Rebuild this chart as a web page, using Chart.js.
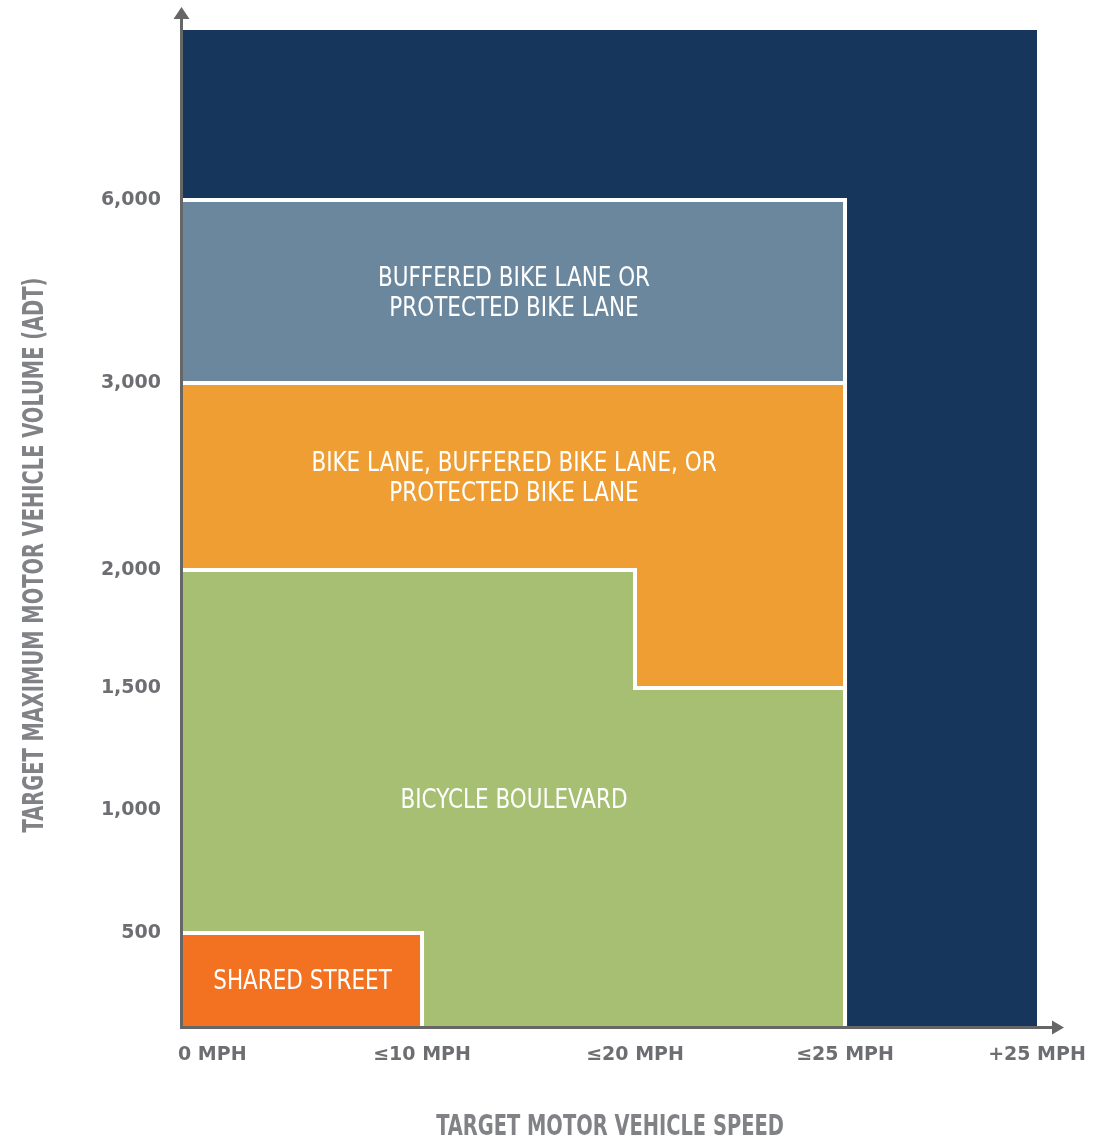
<!DOCTYPE html>
<html>
<head>
<meta charset="utf-8">
<title>Bikeway selection by speed and volume</title>
<script src="https://cdn.jsdelivr.net/npm/chart.js@4.4.1/dist/chart.umd.min.js"></script>
<style>
  html, body { margin: 0; padding: 0; background: #fff; }
  #wrap { width: 1109px; height: 1139px; position: relative; }
</style>
</head>
<body>
<div id="wrap"><canvas id="chart"></canvas></div>
<script>
// 横轴：目标机动车速度
const speedTicks = [0, 10, 20, 25, 30];
const speedLabels = ['0 MPH', '≤10 MPH', '≤20 MPH', '≤25 MPH', '+25 MPH'];

// 纵轴：目标最大机动车流量 (ADT)
const volumeTicks = [500, 1000, 1500, 2000, 3000, 6000];
const volumeLabels = ['500', '1,000', '1,500', '2,000', '3,000', '6,000'];
const volumeTop = 9000;

// 各设施区域的外轮廓 [速度, 流量]
const anyFacility = [[0, volumeTop], [30, volumeTop]];
const bufferedLane = [[0, 6000], [25, 6000], [25, 0]];
const bikeLane = [[0, 3000], [25, 3000], [25, 0]];
const bicycleBoulevard = [[0, 2000], [20, 2000], [20, 1500], [25, 1500], [25, 0]];
const sharedStreet = [[0, 500], [10, 500], [10, 0]];

// 区域内文字
const bufferedText = ['BUFFERED BIKE LANE OR', 'PROTECTED BIKE LANE'];
const bikeLaneText = ['BIKE LANE, BUFFERED BIKE LANE, OR', 'PROTECTED BIKE LANE'];
const boulevardText = ['BICYCLE BOULEVARD'];
const sharedText = ['SHARED STREET'];

// 轴的分段位置（原图刻度不等距）
const axisStops = {
  x: { values: [0, 10, 20, 25, 30], pos: [0, 0.2799, 0.5293, 0.7752, 1] },
  y: { values: [0, 500, 1000, 1500, 2000, 3000, 6000, volumeTop],
       pos: [0, 0.0934, 0.2169, 0.3394, 0.4578, 0.6456, 0.8293, 1] }
};

class StepScale extends Chart.LinearScale {
  determineDataLimits() {
    const s = axisStops[this.id];
    this.min = s.values[0];
    this.max = s.values[s.values.length - 1];
  }
  buildTicks() {
    const list = this.id === 'x' ? speedTicks : volumeTicks;
    return list.map(v => ({ value: v }));
  }
  getPixelForValue(value) {
    const s = axisStops[this.id];
    let i = 1;
    while (i < s.values.length - 1 && value > s.values[i]) i++;
    const t = s.pos[i - 1] + (value - s.values[i - 1]) / (s.values[i] - s.values[i - 1]) * (s.pos[i] - s.pos[i - 1]);
    return this.getPixelForDecimal(t);
  }
  getValueForPixel(pixel) {
    const s = axisStops[this.id];
    const t = this.getDecimalForPixel(pixel);
    let i = 1;
    while (i < s.pos.length - 1 && t > s.pos[i]) i++;
    return s.values[i - 1] + (t - s.pos[i - 1]) / (s.pos[i] - s.pos[i - 1]) * (s.values[i] - s.values[i - 1]);
  }
  _computeLabelItems(chartArea) {
    const items = super._computeLabelItems(chartArea);
    // "0 MPH" 从轴线处起笔
    if (this.id === 'x' && items.length) {
      items[0].options.textAlign = 'left';
      items[0].options.translation[0] -= 5;
    }
    return items;
  }
}
StepScale.id = 'step';
StepScale.defaults = Chart.LinearScale.defaults;
Chart.register(StepScale);

function toPoints(outline) {
  return outline.map(p => ({ x: p[0], y: p[1] }));
}

function region(outline, color, border) {
  return {
    data: toPoints(outline),
    backgroundColor: color,
    borderColor: '#ffffff',
    borderWidth: border,
    borderJoinStyle: 'miter',
    pointRadius: 0,
    tension: 0,
    fill: 'origin'
  };
}

const tickFont = { family: 'DejaVu Sans', weight: 'bold', size: 19 };
const narrow = '"DejaVu Sans Condensed", "DejaVu Sans", sans-serif';

// 压窄的文字（原图为窄体字）
function squeezeText(ctx, text, x, y, sx, angle) {
  ctx.save();
  ctx.translate(x, y);
  if (angle) ctx.rotate(angle);
  ctx.scale(sx, 1);
  ctx.fillText(text, 0, 0);
  ctx.restore();
}

// 标签、坐标轴和箭头
const decorPlugin = {
  id: 'decor',
  afterDatasetsDraw(chart) {
    const { ctx, chartArea, scales: { x, y } } = chart;
    ctx.save();

    // 区域文字
    const labels = [
      [bufferedText, bufferedLane, 3000],
      [bikeLaneText, bikeLane, 2000],
      [boulevardText, bicycleBoulevard, 0],
      [sharedText, sharedStreet, 0]
    ];
    ctx.fillStyle = '#ffffff';
    ctx.font = '26px ' + narrow;
    ctx.textAlign = 'center';
    ctx.textBaseline = 'middle';
    labels.forEach(([lines, outline, floor]) => {
      const cx = (x.getPixelForValue(0) + x.getPixelForValue(outline[outline.length - 1][0])) / 2;
      const cy = (y.getPixelForValue(floor) + y.getPixelForValue(outline[0][1])) / 2 + 3;
      lines.forEach((t, i) => {
        squeezeText(ctx, t, cx, cy + (i - (lines.length - 1) / 2) * 30, 0.92);
      });
    });

    // 坐标轴
    const left = chartArea.left - 1.5;
    const bottom = chartArea.bottom + 1.5;
    ctx.strokeStyle = '#666666';
    ctx.fillStyle = '#666666';
    ctx.lineWidth = 3;
    ctx.beginPath();
    ctx.moveTo(left, bottom);
    ctx.lineTo(left, 14);
    ctx.moveTo(left - 1.5, bottom);
    ctx.lineTo(1056, bottom);
    ctx.stroke();

    ctx.beginPath();
    ctx.moveTo(left, 7);
    ctx.lineTo(left + 8, 19);
    ctx.lineTo(left - 8, 19);
    ctx.closePath();
    ctx.fill();

    ctx.beginPath();
    ctx.moveTo(1064, bottom);
    ctx.lineTo(1052, bottom - 7);
    ctx.lineTo(1052, bottom + 7);
    ctx.closePath();
    ctx.fill();

    // 轴标题
    ctx.fillStyle = '#808285';
    ctx.font = 'bold 29px ' + narrow;
    squeezeText(ctx, 'TARGET MOTOR VEHICLE SPEED', (chartArea.left + chartArea.right) / 2, 1127, 0.745);
    squeezeText(ctx, 'TARGET MAXIMUM MOTOR VEHICLE VOLUME (ADT)', 35, 555, 0.745, -Math.PI / 2);
    ctx.restore();
  }
};

const ctx = document.getElementById('chart').getContext('2d');
new Chart(ctx, {
  type: 'line',
  data: {
    datasets: [
      region(sharedStreet, '#F27221', 4),
      region(bicycleBoulevard, '#A6BF72', 4),
      region(bikeLane, '#EE9E33', 4),
      region(bufferedLane, '#6B879E', 4),
      region(anyFacility, '#17365C', 0)
    ]
  },
  options: {
    responsive: true,
    maintainAspectRatio: false,
    animation: false,
    layout: { padding: { top: 30, right: 72, left: 0, bottom: 0 } },
    plugins: {
      legend: { display: false },
      tooltip: { enabled: false }
    },
    scales: {
      x: {
        type: 'step',
        grid: { display: false, drawTicks: false },
        border: { display: false },
        ticks: {
          padding: 18,
          color: '#6D6E71',
          font: tickFont,
          maxRotation: 0,
          autoSkip: false,
          callback: v => speedLabels[speedTicks.indexOf(v)]
        },
        afterFit: scale => { scale.height = 113; }
      },
      y: {
        type: 'step',
        grid: { display: false, drawTicks: false },
        border: { display: false },
        ticks: {
          padding: 22,
          color: '#6D6E71',
          font: tickFont,
          autoSkip: false,
          callback: v => volumeLabels[volumeTicks.indexOf(v)]
        },
        // 刻度 padding 会被算进上下留白，这里清掉
        afterFit: scale => {
          scale.width = 183;
          scale.paddingTop = 0;
          scale.paddingBottom = 0;
        }
      }
    }
  },
  plugins: [decorPlugin]
});
</script>
</body>
</html>
